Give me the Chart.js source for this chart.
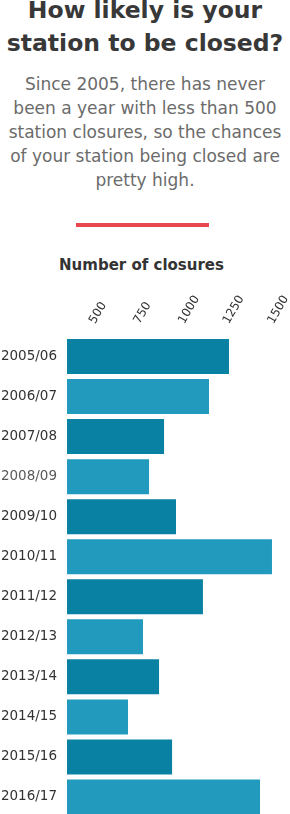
<!DOCTYPE html>
<html>
<head>
<meta charset="utf-8">
<script src="https://cdn.jsdelivr.net/npm/chart.js@4"></script>
<style>
  html, body { margin: 0; padding: 0; background: #fff; overflow: hidden; }
  body { width: 290px; height: 814px; position: relative; font-family: "DejaVu Sans", sans-serif; }
  .title {
    position: absolute; left: 0; top: -6px; width: 290px;
    text-align: center; font-weight: bold; font-size: 23.5px; line-height: 33px;
    color: #383838; white-space: nowrap;
  }
  .intro {
    position: absolute; left: 0; top: 72px; width: 290px;
    text-align: center; font-size: 17px; line-height: 24px;
    color: #6b6b6b; white-space: nowrap;
  }
  .rule {
    position: absolute; left: 76px; top: 223px; width: 133px; height: 4px;
    background: #e8474b;
  }
  .axis-title {
    position: absolute; left: 0; top: 255px; width: 283px;
    text-align: center; font-weight: bold; font-size: 15px; line-height: 20px;
    color: #333;
  }
  .chart-wrap { position: absolute; left: 0; top: 280px; width: 290px; height: 537px; }
</style>
</head>
<body>
<div class="title">How likely is your<br>station to be closed?</div>
<div class="intro">Since 2005, there has never<br>been a year with less than 500<br>station closures, so the chances<br>of your station being closed are<br>pretty high.</div>
<div class="rule"></div>
<div class="axis-title">Number of closures</div>
<div class="chart-wrap"><canvas id="closuresChart"></canvas></div>

<script>
// Data
const years = ["2005/06", "2006/07", "2007/08", "2008/09", "2009/10", "2010/11",
               "2011/12", "2012/13", "2013/14", "2014/15", "2015/16", "2016/17"];
const closures = [1258, 1146, 894, 810, 961, 1499, 1112, 776, 866, 692, 939, 1432];
const tickValues = [500, 750, 1000, 1250, 1500];

const darkBlue = "#0881a3";
const lightBlue = "#219abe";
const barColors = closures.map((v, i) => (i % 2 === 0 ? darkBlue : lightBlue));
// 2008/09 label is shown lighter in the original
const labelColors = years.map((y, i) => (i === 3 ? "#5a5a5a" : "#333"));

new Chart(document.getElementById("closuresChart"), {
  type: "bar",
  data: {
    labels: years,
    datasets: [{
      label: "Number of closures",
      data: closures,
      backgroundColor: barColors,
      borderWidth: 0,
      categoryPercentage: 1,
      barPercentage: 0.875
    }]
  },
  options: {
    indexAxis: "y",
    responsive: true,
    maintainAspectRatio: false,
    animation: false,
    layout: { padding: 0 },
    plugins: {
      legend: { display: false },
      tooltip: { enabled: false }
    },
    scales: {
      x: {
        position: "top",
        min: 350,
        max: 1600,
        border: { display: false },
        grid: { display: false, drawTicks: false },
        afterBuildTicks: (axis) => {
          axis.ticks = tickValues.map(v => ({ value: v }));
        },
        afterFit: (axis) => {
          axis.height = 56.5;
          axis.paddingLeft = 0;
          axis.paddingRight = 0;
        },
        ticks: {
          minRotation: 60,
          maxRotation: 60,
          padding: 10,
          labelOffset: 11,
          color: "#333",
          font: { family: "DejaVu Sans", size: 12 },
          callback: (value) => String(value)
        }
      },
      y: {
        border: { display: false },
        grid: { display: false, drawTicks: false },
        afterFit: (axis) => {
          axis.width = 67;
          axis.paddingTop = 0;
          axis.paddingBottom = 0;
        },
        ticks: {
          padding: 10,
          color: labelColors,
          font: { family: "DejaVu Sans", size: 13.5 }
        }
      }
    }
  }
});
</script>
</body>
</html>
